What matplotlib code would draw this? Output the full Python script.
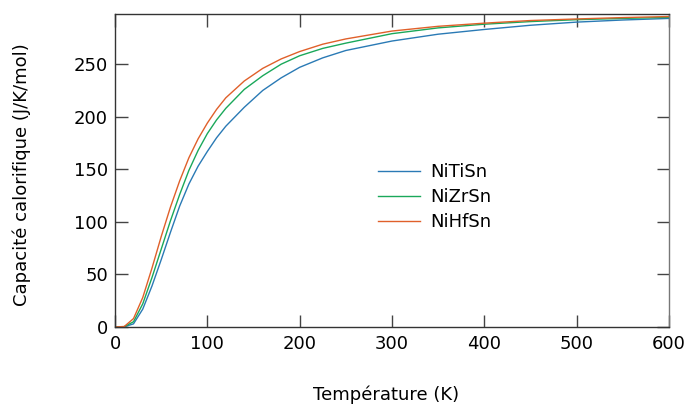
import matplotlib
matplotlib.use("Agg")
import matplotlib.pyplot as plt
import numpy as np

# temperatures (K) and heat capacity (J/K/mol)
T = [0, 10, 20, 30, 40, 50, 60, 70, 80, 90, 100, 110, 120, 140, 160, 180, 200,
     225, 250, 300, 350, 400, 450, 500, 550, 600]
cp_ti = [0, 0.2, 3, 17, 39, 64, 90, 115, 136, 153, 167, 180, 191, 209, 225, 237, 247,
         256, 263, 272, 278.5, 283, 287, 290, 292, 293.5]
cp_zr = [0, 0.3, 5, 22, 47, 74, 101, 126, 149, 168, 184, 197, 208, 226, 239, 250, 258,
         265, 270, 279, 284.5, 288, 290.5, 292.3, 293.5, 294.5]
cp_hf = [0, 0.5, 8, 28, 56, 86, 114, 139, 161, 179, 194, 207, 218, 234, 246, 255, 262,
         269, 274, 281.5, 286, 289, 291.5, 293, 294.3, 295.3]

names = ["NiTiSn", "NiZrSn", "NiHfSn"]
colors = ["#2a7ab5", "#1aa85a", "#e0602a"]

plt.rcParams['font.family'] = ['DejaVu Sans']

fig, ax = plt.subplots(figsize=(6.91, 4.05), dpi=100)
fig.subplots_adjust(left=0.1665, right=0.968, top=0.9654, bottom=0.1926)

for y, n, c in zip([cp_ti, cp_zr, cp_hf], names, colors):
    ax.plot(T, y, color=c, lw=1.0, label=n)

ax.set_xlim(0, 600)
ax.set_ylim(0, 297.7)
ax.set_xticks(np.arange(0, 601, 100))
ax.set_yticks(np.arange(0, 251, 50))
ax.tick_params(direction='in', length=9, width=1, top=True, right=True,
               labelsize=13, colors='#444444', labelcolor='black')
ax.tick_params(axis='x', pad=6)
ax.tick_params(axis='y', pad=5)
for s in ax.spines.values():
    s.set_color('#333333')
    s.set_linewidth(1)
ax.spines['right'].set_color('#777777')

ax.set_xlabel("Température (K)", fontsize=13, va='center')
ax.xaxis.set_label_coords(0.489, -0.217)
ax.set_ylabel("Capacité calorifique (J/K/mol)", fontsize=13, va='center')
ax.yaxis.set_label_coords(-0.168, 0.486)

ax.legend(loc='center left', bbox_to_anchor=(0.475, 0.415), frameon=False,
          fontsize=13, handlelength=2.3, handletextpad=0.6, labelspacing=0.4,
          borderpad=0, borderaxespad=0)

fig.savefig("out.png", dpi=100)
